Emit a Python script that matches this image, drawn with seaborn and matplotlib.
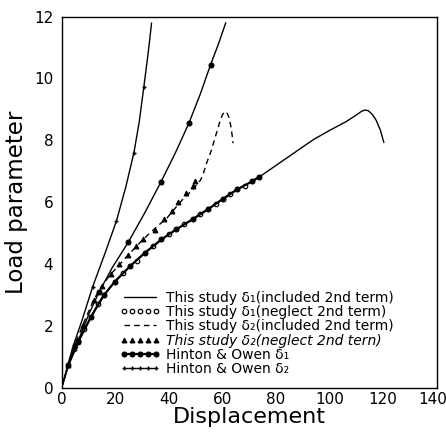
import numpy as np
import pandas as pd
import matplotlib
matplotlib.use("Agg")
import matplotlib.pyplot as plt
import matplotlib.transforms as mtrans
import seaborn as sns

# ---- data ----
# This study delta1 (included 2nd term): lowest solid curve
d1_inc_x = [0, 2.5, 4.6, 6.2, 8.5, 11, 13.5, 15.8, 19.9, 25.5, 31.0, 37.3, 42.9, 48.9, 54.7,
            60.1, 65.6, 71.2, 74.0, 82.7, 93.9, 100.0, 106.3, 110.0, 112.0, 113.2, 114.5,
            116.0, 117.5, 119.0, 120.3]
d1_inc_y = [0, 0.74, 1.25, 1.49, 1.9, 2.3, 2.7, 3.0, 3.44, 3.93, 4.36, 4.8, 5.13, 5.45, 5.78,
            6.1, 6.42, 6.68, 6.83, 7.35, 8.02, 8.32, 8.61, 8.82, 8.94, 8.98, 8.96,
            8.84, 8.64, 8.33, 7.93]

# This study delta1 (neglect 2nd term): open circles
d1_neg_x = [4.6, 8.5, 13.5, 23.0, 28.0, 34.2, 40.1, 45.8, 51.6, 57.5, 62.8, 68.4]
d1_neg_y = [1.25, 1.9, 2.7, 3.71, 4.1, 4.58, 4.97, 5.29, 5.61, 5.94, 6.26, 6.52]

# This study delta2 (included 2nd term): dashed curve
d2_inc_x = [0, 2.5, 5, 8, 12, 15, 18.4, 24.9, 30.4, 34.9, 39.4, 42.5, 45.7, 48.9, 51.9,
            53.0, 54.1, 56.0, 57.8, 59.0, 60.0, 60.9, 61.7, 62.5, 63.2, 63.7, 64.0]
d2_inc_y = [0, 0.75, 1.4, 2.05, 2.85, 3.3, 3.68, 4.3, 4.8, 5.16, 5.5, 5.82, 6.14, 6.4, 6.72,
            6.95, 7.26, 7.7, 8.23, 8.58, 8.82, 8.93, 8.9, 8.74, 8.45, 8.15, 7.91]

# This study delta2 (neglect 2nd term): triangles
d2_neg_x = [2.5, 5, 8, 12, 15, 18.4, 21.5, 24.9, 27.8, 30.4, 34.8, 38.2, 41.3, 43.5, 46.6, 49.1, 49.9]
d2_neg_y = [0.75, 1.4, 2.05, 2.85, 3.3, 3.68, 4.0, 4.3, 4.58, 4.8, 5.1, 5.45, 5.73, 6.0, 6.29, 6.53, 6.7]

# Hinton & Owen delta1: filled circles on the lowest curve
ho1_x = [2.5, 6.2, 11.0, 15.8, 19.9, 25.5, 31.0, 37.3, 42.9, 48.9, 54.7, 60.1, 65.6, 71.2, 73.7]
ho1_y = [0.74, 1.49, 2.3, 3.0, 3.44, 3.93, 4.36, 4.8, 5.13, 5.45, 5.78, 6.1, 6.42, 6.68, 6.82]

# Hinton & Owen delta2: steepest curve with small markers
ho2_x = [0, 2.5, 4.5, 7.5, 11.6, 16.0, 20.5, 24.0, 27.0, 29.0, 30.7, 32.3, 33.6]
ho2_y = [0, 0.8, 1.4, 2.15, 3.27, 4.3, 5.4, 6.5, 7.6, 8.6, 9.72, 10.8, 11.79]

# second steep curve with filled circles
c2_x = [0, 2.5, 4.5, 6.2, 10, 14, 19, 24.9, 31, 37.0, 42.5, 47.5, 51.8, 55.6, 58.5, 61.3]
c2_y = [0, 0.7, 1.2, 1.52, 2.35, 3.1, 3.9, 4.71, 5.65, 6.64, 7.6, 8.55, 9.5, 10.44, 11.1, 11.8]
c2_mark = [3, 5, 7, 9, 11, 13]
ho2_mark = [2, 4, 6, 8, 10]

labels = ["This study δ₁(included 2nd term)",
          "This study δ₁(neglect 2nd term)",
          "This study δ₂(included 2nd term)",
          "This study δ₂(neglect 2nd tern)",
          "Hinton & Owen δ₁",
          "Hinton & Owen δ₂"]

x_ticks = [0, 20, 40, 60, 80, 100, 120, 140]
y_ticks = [0, 2, 4, 6, 8, 10, 12]

# ---- plot ----
sns.set_style("white")
plt.rcParams['font.family'] = ['DejaVu Sans']
plt.rcParams['text.color'] = 'black'
plt.rcParams['axes.labelcolor'] = 'black'
plt.rcParams['xtick.color'] = 'black'
plt.rcParams['ytick.color'] = 'black'
fig = plt.figure(figsize=(4.46, 4.36), dpi=100)
ax = fig.add_axes([0.138, 0.110, 0.841, 0.852])

k = "black"
common = dict(ax=ax, sort=False, estimator=None, color=k, legend=False)

sns.lineplot(x=d1_inc_x, y=d1_inc_y, lw=1.0, **common)
sns.lineplot(x=d1_neg_x, y=d1_neg_y, lw=0, marker="o", ms=3.2, mfc="white", mec=k, mew=0.9, **common)
sns.lineplot(x=d2_inc_x, y=d2_inc_y, lw=1.0, ls=(0, (4, 3)), **common)
sns.lineplot(x=d2_neg_x, y=d2_neg_y, lw=0, marker="^", ms=3.5, mfc=k, mec=k, **common)
sns.lineplot(x=ho1_x, y=ho1_y, lw=1.6, marker="o", ms=3.6, mfc=k, mec=k, **common)
sns.lineplot(x=ho2_x, y=ho2_y, lw=1.0, marker="+", ms=3.2, mew=1.0, mec=k, mfc=k,
             markevery=ho2_mark, **common)
sns.lineplot(x=c2_x, y=c2_y, lw=1.0, marker="o", ms=3.6, mfc=k, mec=k, markevery=c2_mark, **common)

lines = ax.get_lines()[:6]
leg = ax.legend(lines, labels, loc="upper left", bbox_to_anchor=(0.155, 0.262),
                frameon=False, fontsize=10, handlelength=2.9, handletextpad=0.45,
                labelspacing=0.02, borderpad=0, numpoints=5, borderaxespad=0)
leg.get_texts()[3].set_fontstyle("italic")
for h in leg.legend_handles:
    h.set_markevery(None)

ax.set_xlim(0, 140)
ax.set_ylim(0, 12)
ax.set_xticks(x_ticks)
ax.set_yticks(y_ticks)
ax.set_xticks(np.arange(10, 140, 10), minor=True)
ax.set_yticks(np.arange(1, 12, 1), minor=True)
ax.tick_params(axis="x", which="both", direction="in", length=4, width=0.9, labelsize=11, pad=3)
ax.tick_params(axis="y", which="both", direction="out", length=4, width=0.9, labelsize=11, pad=2)
ax.tick_params(which="minor", length=3)
fig.canvas.draw()
xl = ax.get_xticklabels()
xl[-1].set_transform(xl[-1].get_transform() + mtrans.ScaledTranslation(-3 / 72, 0, fig.dpi_scale_trans))

for s in ax.spines.values():
    s.set_visible(True)
    s.set_color(k)
    s.set_linewidth(1.0)

ax.set_xlabel("Displacement", fontsize=16, labelpad=0)
ax.set_ylabel("Load parameter", fontsize=16.5, labelpad=4)

fig.savefig("out.png", dpi=100)
